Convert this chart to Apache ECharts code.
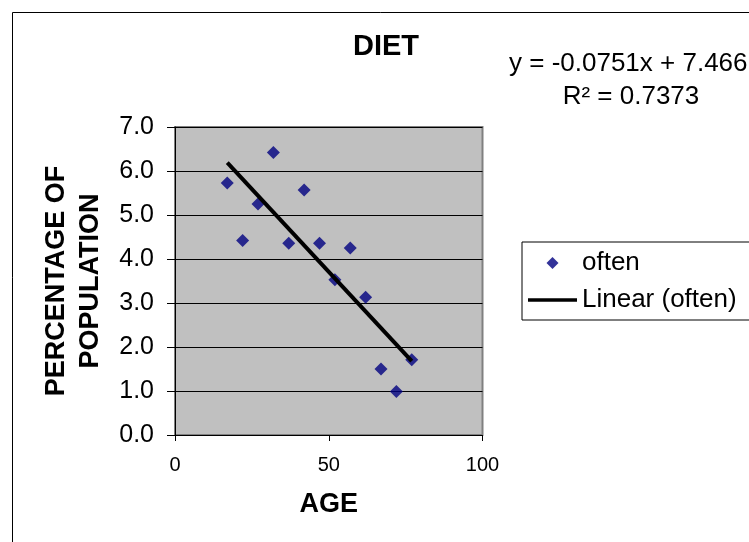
<!DOCTYPE html>
<html>
<head>
<meta charset="utf-8">
<script src="https://cdn.jsdelivr.net/npm/echarts@6/dist/echarts.min.js"></script>
<style>
html,body{margin:0;padding:0;background:#fff;overflow:hidden;}
#c{width:749px;height:542px;}
</style>
</head>
<body>
<div id="c"></div>
<script>
// ---- data ----
const ages = [17, 22, 27, 32, 37, 42, 47, 52, 57, 62, 67, 72, 77];
const often = [5.73, 4.42, 5.25, 6.42, 4.36, 5.57, 4.36, 3.53, 4.25, 3.13, 1.50, 0.99, 1.71];
const trendX = [17, 77];
const trendY = [6.19, 1.68];
const titleText = 'DIET';
const xName = 'AGE';
const yName = 'PERCENTAGE OF\nPOPULATION';
const eqLine1 = 'y = -0.0751x + 7.466';
const eqLine2 = 'R\u00B2 = 0.7373';
const seriesName = 'often';
const trendName = 'Linear (often)';

const FONT = "'Liberation Sans', Arial, Helvetica, sans-serif";

const scatterData = ages.map((a, i) => [a, often[i]]);
const trendData = trendX.map((x, i) => [x, trendY[i]]);

const chart = echarts.init(document.getElementById('c'), null, {renderer: 'canvas'});
chart.setOption({
  animation: false,
  backgroundColor: '#ffffff',
  title: {
    text: titleText,
    left: 353,
    top: 32,
    padding: 0,
    textStyle: {fontFamily: FONT, fontSize: 29, fontWeight: 'bold', color: '#000'}
  },
  grid: {
    left: 175, top: 127, right: 266.5, bottom: 107,
    show: true, backgroundColor: '#C0C0C0', borderColor: '#808080', borderWidth: 2,
    containLabel: false
  },
  legend: {
    orient: 'vertical',
    left: 522, top: 242,
    padding: [8, 40, 7, 6],
    borderColor: '#000', borderWidth: 1,
    itemWidth: 49, itemHeight: 12, itemGap: 11,
    textStyle: {fontFamily: FONT, fontSize: 26, color: '#000'},
    data: [
      {name: seriesName, icon: 'path://M5 0L10 5L5 10L0 5Z'},
      {name: trendName, icon: 'path://M0 0L49 0L49 3.5L0 3.5Z'}
    ]
  },
  xAxis: {
    type: 'value', min: 0, max: 100, interval: 50,
    name: xName, nameLocation: 'middle', nameGap: 56,
    nameTextStyle: {fontFamily: FONT, fontSize: 27, fontWeight: 'bold', color: '#000'},
    axisLine: {show: true, lineStyle: {color: '#000', width: 1}},
    axisTick: {show: true, length: 6, lineStyle: {color: '#000'}},
    axisLabel: {fontFamily: FONT, fontSize: 20, color: '#000', margin: 20},
    splitLine: {show: false}
  },
  yAxis: {
    type: 'value', min: 0, max: 7, interval: 1,
    name: yName, nameLocation: 'middle', nameGap: 67,
    nameTextStyle: {fontFamily: FONT, fontSize: 27, fontWeight: 'bold', color: '#000', lineHeight: 34},
    axisLine: {show: true, lineStyle: {color: '#000', width: 1}},
    axisTick: {show: true, length: 8, lineStyle: {color: '#000'}},
    axisLabel: {fontFamily: FONT, fontSize: 25, color: '#000', margin: 21,
      formatter: v => v.toFixed(1)},
    splitLine: {show: true, lineStyle: {color: '#000', width: 1}}
  },
  graphic: [
    {type: 'line', silent: true, z: -10,
      shape: {x1: 12.5, y1: 12.5, x2: 749, y2: 12.5},
      style: {stroke: '#000', lineWidth: 1}},
    {type: 'line', silent: true, z: -10,
      shape: {x1: 12.5, y1: 12.5, x2: 12.5, y2: 542},
      style: {stroke: '#000', lineWidth: 1}},
    {type: 'text', x: 509, y: 64, silent: true,
      style: {text: eqLine1, fontFamily: FONT, fontSize: 26, fill: '#000',
        textAlign: 'left', textVerticalAlign: 'middle', align: 'left', verticalAlign: 'middle'}},
    {type: 'text', x: 631, y: 97, silent: true,
      style: {text: eqLine2, fontFamily: FONT, fontSize: 26, fill: '#000',
        textAlign: 'center', textVerticalAlign: 'middle', align: 'center', verticalAlign: 'middle'}}
  ],
  series: [
    {
      name: seriesName, type: 'scatter', data: scatterData,
      symbol: 'diamond', symbolSize: 13, z: 2,
      itemStyle: {color: '#000080'}
    },
    {
      name: trendName, type: 'line', data: trendData,
      symbol: 'none', z: 3,
      lineStyle: {color: '#000', width: 4},
      itemStyle: {color: '#000'}
    }
  ]
});
</script>
</body>
</html>
